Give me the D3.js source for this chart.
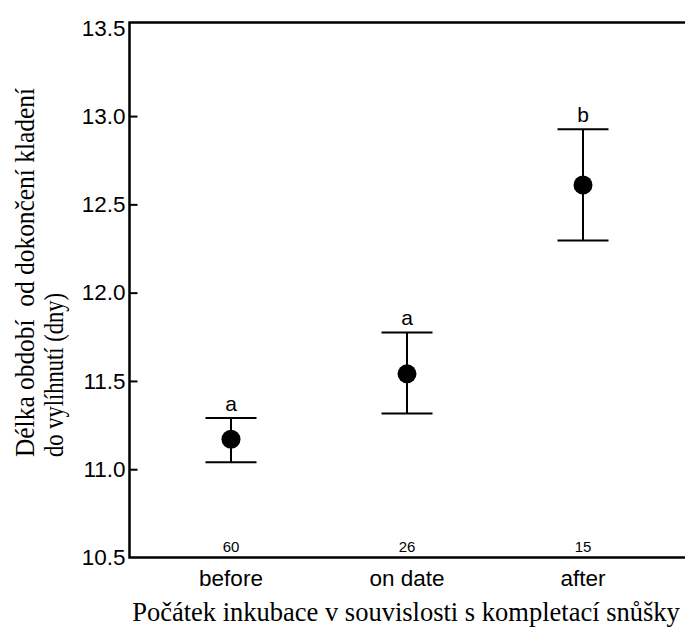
<!DOCTYPE html>
<html>
<head>
<meta charset="utf-8">
<script src="https://cdn.jsdelivr.net/npm/d3@7"></script>
<style>
  body { margin: 0; background: #fff; }
  svg { display: block; }
</style>
</head>
<body>
<svg id="chart"></svg>
<script>
// data
const categories = ["before", "on date", "after"];
const means = [11.17, 11.54, 12.61];
const upper = [11.29, 11.775, 12.925];
const lower = [11.04, 11.315, 12.295];
const letters = ["a", "a", "b"];
const counts = [60, 26, 15];
const yTicks = [10.5, 11.0, 11.5, 12.0, 12.5, 13.0, 13.5];

const width = 685;
const height = 632;
const marginLeft = 129.5;
const marginTop = 22.5;
const bottomY = 557.5;

const sans = "'Liberation Sans', Arial, sans-serif";
const serif = "'Liberation Serif', 'Times New Roman', serif";

const svg = d3.select("#chart")
    .attr("width", width)
    .attr("height", height)
    .attr("viewBox", [0, 0, width, height]);

const y = d3.scaleLinear()
    .domain([10.5, 13.53])
    .range([bottomY, marginTop]);

const x = d3.scalePoint()
    .domain(categories)
    .range([231, 583]);

const data = categories.map((c, i) => ({
    cat: c, mean: means[i], hi: upper[i], lo: lower[i], letter: letters[i], n: counts[i]
}));

// left axis, ticks pointing inwards
svg.append("g")
    .attr("transform", `translate(${marginLeft},0)`)
    .call(d3.axisLeft(y).tickValues(yTicks).tickFormat(d3.format(".1f")).tickSize(-8).tickPadding(4))
    .call(g => g.select(".domain").remove())
    .call(g => g.selectAll(".tick line")
        .attr("stroke", "#000").attr("stroke-width", 2)
        .filter(d => d === 13.5 || d === 10.5).remove())
    .call(g => g.selectAll(".tick text")
        .attr("font-family", sans)
        .attr("font-size", 22.5)
        .attr("fill", "#000"));

// frame: left, top, bottom (right side falls outside the picture)
svg.append("path")
    .attr("fill", "none")
    .attr("stroke", "#000")
    .attr("stroke-width", 2.5)
    .attr("d", `M${width + 10},${y(13.53)}H${marginLeft}V${y(10.5)}H${width + 10}`);

// category labels
svg.append("g")
    .selectAll("text")
    .data(data)
    .join("text")
    .attr("x", d => x(d.cat))
    .attr("y", y(10.5) + 28)
    .attr("text-anchor", "middle")
    .attr("font-family", sans)
    .attr("font-size", 22.5)
    .text(d => d.cat);

// sample sizes
svg.append("g")
    .selectAll("text")
    .data(data)
    .join("text")
    .attr("x", d => x(d.cat))
    .attr("y", y(10.5) - 6)
    .attr("text-anchor", "middle")
    .attr("font-family", sans)
    .attr("font-size", 15)
    .text(d => d.n);

// error bars
const bars = svg.append("g")
    .attr("stroke", "#000")
    .attr("stroke-width", 2);

bars.selectAll(".stem")
    .data(data)
    .join("line")
    .attr("class", "stem")
    .attr("x1", d => x(d.cat)).attr("x2", d => x(d.cat))
    .attr("y1", d => y(d.hi)).attr("y2", d => y(d.lo));

bars.selectAll(".cap-hi")
    .data(data)
    .join("line")
    .attr("class", "cap-hi")
    .attr("x1", d => x(d.cat) - 25.5).attr("x2", d => x(d.cat) + 25.5)
    .attr("y1", d => y(d.hi)).attr("y2", d => y(d.hi));

bars.selectAll(".cap-lo")
    .data(data)
    .join("line")
    .attr("class", "cap-lo")
    .attr("x1", d => x(d.cat) - 25.5).attr("x2", d => x(d.cat) + 25.5)
    .attr("y1", d => y(d.lo)).attr("y2", d => y(d.lo));

// means
svg.append("g")
    .selectAll("circle")
    .data(data)
    .join("circle")
    .attr("cx", d => x(d.cat))
    .attr("cy", d => y(d.mean))
    .attr("r", 9.5)
    .attr("fill", "#000");

// significance letters
svg.append("g")
    .selectAll("text")
    .data(data)
    .join("text")
    .attr("x", d => x(d.cat))
    .attr("y", d => y(d.hi) - 7)
    .attr("text-anchor", "middle")
    .attr("font-family", sans)
    .attr("font-size", 21)
    .text(d => d.letter);

// axis titles
svg.append("text")
    .attr("x", 406)
    .attr("y", 621)
    .attr("text-anchor", "middle")
    .attr("font-family", serif)
    .attr("font-size", 26.5)
    .text("Počátek inkubace v souvislosti s kompletací snůšky");

const ytitle = svg.append("text")
    .attr("transform", "translate(0,457) rotate(-90)")
    .attr("font-family", serif)
    .attr("font-size", 27)
    .attr("text-anchor", "start")
    .style("white-space", "pre");
ytitle.append("tspan")
    .attr("x", 0).attr("y", 34)
    .attr("textLength", 369)
    .attr("lengthAdjust", "spacingAndGlyphs")
    .text("Délka období  od dokončení kladení");
ytitle.append("tspan")
    .attr("x", 0).attr("y", 63)
    .attr("textLength", 164)
    .attr("lengthAdjust", "spacingAndGlyphs")
    .text("do vylíhnutí (dny)");
</script>
</body>
</html>
